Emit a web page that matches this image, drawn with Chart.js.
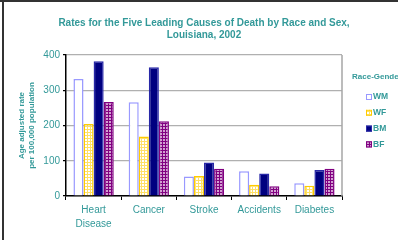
<!DOCTYPE html>
<html>
<head>
<meta charset="utf-8">
<script src="https://cdn.jsdelivr.net/npm/chart.js@4/dist/chart.umd.min.js"></script>
<style>
  body { margin: 0; background: #fff; }
  canvas { display: block; }
</style>
</head>
<body>
<canvas id="grafico" width="398" height="240"></canvas>
<script>
var causas = [["Heart", "Disease"], "Cancer", "Stroke", "Accidents", "Diabetes"];
var grupos = ["WM", "WF", "BM", "BF"];
var valoresWM = [332, 266, 55, 70, 36];
var valoresWF = [204, 169, 57, 32, 29];
var valoresBM = [382, 365, 95, 64, 74];
var valoresBF = [267, 212, 77, 28, 77];
var ticksY = [0, 100, 200, 300, 400];

var teal = "#339999";
var fuente = "'Liberation Sans', Arial, sans-serif";

function patron(tam, fondo, claro, celdas)
{
    var c = document.createElement("canvas");
    c.width = tam;
    c.height = tam;
    var g = c.getContext("2d");
    g.fillStyle = fondo;
    g.fillRect(0, 0, tam, tam);
    g.fillStyle = claro;
    for (var i = 0; i < celdas.length; i++) {
        g.fillRect(celdas[i][0], celdas[i][1], celdas[i][2], celdas[i][3]);
    }
    return g.createPattern(c, "repeat");
}

var ctxBase = document.getElementById("grafico").getContext("2d");
var rellenoWF = patron(3, "#ffe066", "#ffffff", [[1, 1, 2, 2]]);
var rellenoBF = patron(3, "#800080", "#d2a0d2", [[1, 1, 2, 2]]);

// marco gris oscuro arriba y a la izquierda
var marco = {
    id: "marco",
    beforeDraw: function(chart) {
        var c = chart.ctx;
        c.save();
        c.fillStyle = "#333";
        c.fillRect(0, 0, chart.width, 2);
        c.fillRect(2, 0, 2, chart.height);
        c.restore();
    },
    afterDatasetsDraw: function(chart) {
        var a = chart.chartArea;
        var c = chart.ctx;
        c.save();
        c.strokeStyle = "#a6a6a6";
        c.lineWidth = 1.5;
        c.beginPath();
        c.moveTo(a.right, a.top);
        c.lineTo(a.right, a.bottom);
        c.stroke();
        c.restore();
    }
};

// leyenda a la derecha, con titulo
var leyenda = {
    id: "leyenda",
    afterDraw: function(chart) {
        var c = chart.ctx;
        var x0 = chart.chartArea.right;
        c.save();
        c.fillStyle = teal;
        c.textBaseline = "middle";
        c.font = "bold 8px " + fuente;
        c.fillText("Race-Gender", x0 + 10, 77);
        c.font = "bold 8.5px " + fuente;
        var sets = chart.data.datasets;
        for (var i = 0; i < sets.length; i++) {
            var y = 97 + i * 15.8;
            c.fillStyle = sets[i].backgroundColor;
            c.fillRect(x0 + 24, y - 3, 6, 6);
            c.strokeStyle = sets[i].borderColor;
            c.lineWidth = 1;
            c.strokeRect(x0 + 24.5, y - 2.5, 5, 5);
            c.fillStyle = teal;
            c.fillText(sets[i].label, x0 + 31, y);
        }
        c.restore();
    }
};

new Chart(ctxBase, {
    type: "bar",
    data: {
        labels: causas,
        datasets: [
            { label: grupos[0], data: valoresWM, backgroundColor: "#ffffff", borderColor: "#9999ff", borderWidth: 1.5 },
            { label: grupos[1], data: valoresWF, backgroundColor: rellenoWF, borderColor: "#ffcc00", borderWidth: 1.5 },
            { label: grupos[2], data: valoresBM, backgroundColor: "#000080", borderColor: "#2828a8", borderWidth: 1.5 },
            { label: grupos[3], data: valoresBF, backgroundColor: rellenoBF, borderColor: "#800080", borderWidth: 1.5 }
        ]
    },
    options: {
        responsive: false,
        animation: false,
        devicePixelRatio: 1,
        layout: { padding: { left: 10, right: 0, top: 0, bottom: 0 } },
        datasets: { bar: { barPercentage: 1, categoryPercentage: 0.73 } },
        plugins: {
            legend: { display: false },
            tooltip: { enabled: false },
            title: {
                display: true,
                text: ["Rates for the Five Leading Causes of Death by Race and Sex,", "Louisiana, 2002"],
                color: teal,
                font: { family: fuente, size: 10, weight: "bold", lineHeight: 1.2 },
                padding: { top: 17, bottom: 14 }
            }
        },
        scales: {
            x: {
                grid: { display: true, drawOnChartArea: false, drawTicks: true, tickLength: 4, color: "#000" },
                border: { color: "#000", width: 1.5 },
                ticks: { color: teal, font: { family: fuente, size: 10, lineHeight: 1.4 }, padding: 3, maxRotation: 0 },
                afterFit: function(s) { s.height = 44; }
            },
            y: {
                min: 0,
                max: 400,
                afterBuildTicks: function(s) { s.ticks = ticksY.map(function(v) { return { value: v }; }); },
                grid: { color: "#b0b0b0", lineWidth: 1.2, tickColor: "#000", tickLength: 3 },
                border: { color: "#000", width: 1.5 },
                ticks: { color: teal, font: { family: fuente, size: 10 }, padding: 3 },
                title: {
                    display: true,
                    text: ["Age adjusted rate", "per 100,000 population"],
                    color: teal,
                    font: { family: fuente, size: 8, weight: "bold", lineHeight: 1.25 },
                    padding: { top: 7, bottom: 0 }
                },
                afterFit: function(s) { s.width = 56; }
            },
            lado: {
                type: "linear",
                position: "right",
                display: true,
                grid: { display: false },
                border: { display: false },
                ticks: { display: false },
                afterFit: function(s) { s.width = 56; }
            }
        }
    },
    plugins: [marco, leyenda]
});
</script>
</body>
</html>
